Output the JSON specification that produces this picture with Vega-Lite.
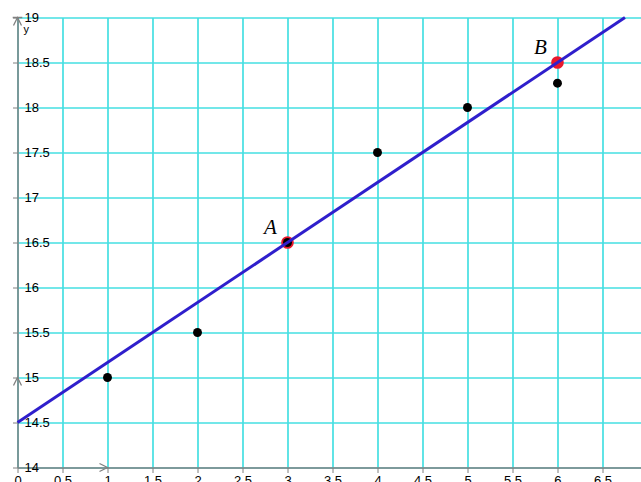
{
  "$schema": "https://vega.github.io/schema/vega-lite/v6.json",
  "width": 623.5,
  "height": 450,
  "autosize": "none",
  "padding": {"left": 17.5, "top": 17.5, "right": 0, "bottom": 14.5},
  "background": "white",
  "config": {
    "view": {"stroke": null},
    "axis": {
      "grid": true,
      "gridColor": "#45dfe2",
      "gridWidth": 1.7,
      "domainColor": "#808080",
      "domainWidth": 1.5,
      "tickColor": "#808080",
      "tickWidth": 1,
      "tickSize": 5,
      "labelFont": "Liberation Sans",
      "labelFontSize": 13,
      "labelColor": "#000000",
      "labelFlush": false,
      "labelOverlap": false,
      "labelBound": false,
      "format": "~g"
    }
  },
  "datasets": {
    "points": [
      {"x": 1, "y": 15},
      {"x": 2, "y": 15.5},
      {"x": 3, "y": 16.5},
      {"x": 4, "y": 17.5},
      {"x": 5, "y": 18},
      {"x": 6, "y": 18.27}
    ],
    "ab": [
      {"label": "A", "x": 3, "y": 16.5},
      {"label": "B", "x": 6, "y": 18.5}
    ],
    "fit": [
      {"x": 0, "y": 14.5},
      {"x": 6.75, "y": 19}
    ],
    "arrows": [
      {"x": 0, "y": 19, "dir": "top"},
      {"x": 0, "y": 15, "dir": "up"},
      {"x": 1, "y": 14, "dir": "right"}
    ]
  },
  "layer": [
    {
      "data": {"name": "ab"},
      "mark": {"type": "circle", "color": "#e8192c", "size": 160, "opacity": 1},
      "encoding": {
        "x": {
          "field": "x", "type": "quantitative",
          "scale": {"domain": [0, 6.928], "nice": false, "zero": false},
          "axis": {
            "orient": "bottom",
            "values": [0, 0.5, 1, 1.5, 2, 2.5, 3, 3.5, 4, 4.5, 5, 5.5, 6, 6.5],
            "labelPadding": 2,
            "title": null
          }
        },
        "y": {
          "field": "y", "type": "quantitative",
          "scale": {"domain": [14, 19], "nice": false, "zero": false},
          "axis": {
            "orient": "left",
            "values": [14, 14.5, 15, 15.5, 16, 16.5, 17, 17.5, 18, 18.5, 19],
            "labelAlign": "left",
            "labelBaseline": "middle",
            "labelPadding": -11.5,
            "title": "y",
            "titleAngle": 0,
            "titleX": 5.5,
            "titleY": 11.5,
            "titleAlign": "left",
            "titleBaseline": "middle",
            "titleFont": "Liberation Sans",
            "titleFontSize": 11,
            "titleFontWeight": "normal",
            "titleColor": "#000000"
          }
        }
      }
    },
    {
      "data": {"name": "arrows"},
      "mark": {"type": "point", "filled": false, "stroke": "#808080", "strokeWidth": 1.3, "size": 64, "opacity": 1},
      "encoding": {
        "x": {"field": "x", "type": "quantitative"},
        "y": {"field": "y", "type": "quantitative"},
        "shape": {
          "field": "dir", "type": "nominal", "legend": null,
          "scale": {
            "domain": ["top", "up", "right"],
            "range": ["M-1.2,0L1.2,0M-1,2L0,0L1,2", "M-1,2L0,0L1,2", "M-2,-1L0,0L-2,1"]
          }
        }
      }
    },
    {
      "data": {"name": "points"},
      "mark": {"type": "circle", "color": "#000000", "size": 80, "opacity": 1},
      "encoding": {
        "x": {"field": "x", "type": "quantitative"},
        "y": {"field": "y", "type": "quantitative"}
      }
    },
    {
      "data": {"name": "fit"},
      "mark": {"type": "line", "color": "#2f1fcc", "strokeWidth": 3},
      "encoding": {
        "x": {"field": "x", "type": "quantitative"},
        "y": {"field": "y", "type": "quantitative"}
      }
    },
    {
      "data": {"name": "ab"},
      "mark": {"type": "text", "font": "Liberation Serif", "fontStyle": "italic", "fontSize": 21, "dx": -17, "dy": -15, "align": "center", "baseline": "middle", "color": "#000000"},
      "encoding": {
        "x": {"field": "x", "type": "quantitative"},
        "y": {"field": "y", "type": "quantitative"},
        "text": {"field": "label"}
      }
    }
  ]
}
